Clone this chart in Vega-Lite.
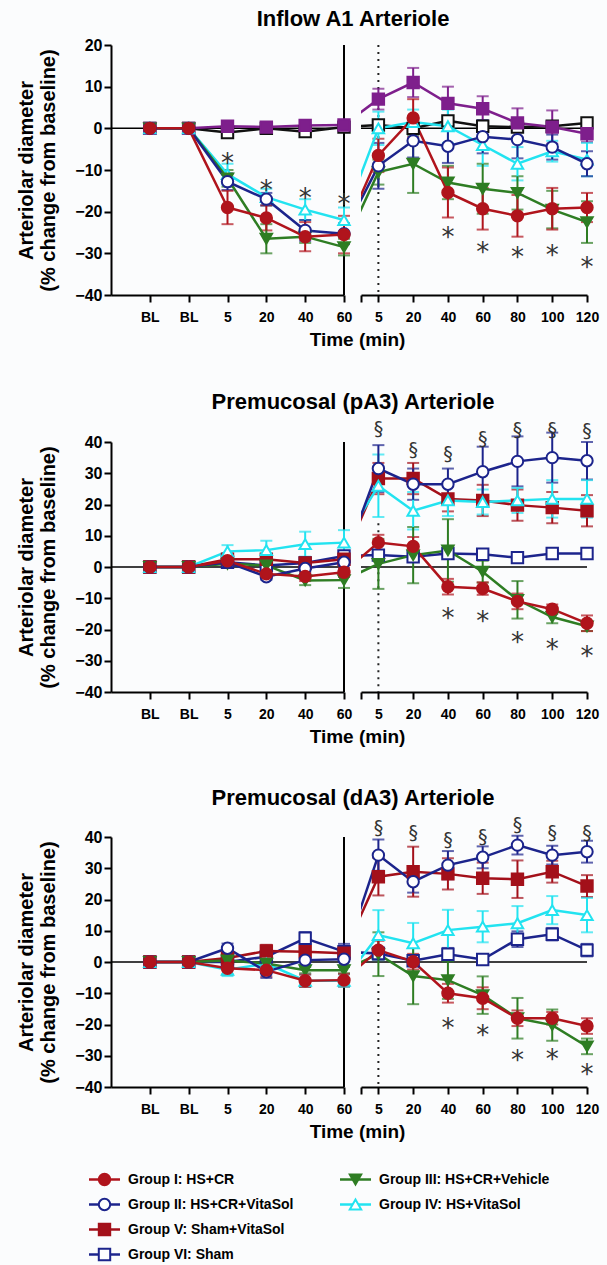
{
"$schema": "https://vega.github.io/schema/vega-lite/v6.json",
"background": "#fbfcfd",
"padding": {"left": 16, "top": 8, "right": 2, "bottom": 2},
"spacing": 26,
"datasets": {
"d": [
{"p":"A1","g":"VI","i":1,"m":0,"e":0},{"p":"A1","g":"VI","i":2,"m":0,"e":0},{"p":"A1","g":"VI","i":3,"m":-1,"e":0.5},{"p":"A1","g":"VI","i":4,"m":0,"e":0.5},{"p":"A1","g":"VI","i":5,"m":-0.8,"e":0.8},{"p":"A1","g":"VI","i":6,"m":0.3,"e":0.5},{"p":"A1","g":"VI","i":7,"m":0.8,"e":1},{"p":"A1","g":"VI","i":8,"m":0,"e":1},{"p":"A1","g":"VI","i":9,"m":1.8,"e":1},{"p":"A1","g":"VI","i":10,"m":0.5,"e":1},{"p":"A1","g":"VI","i":11,"m":0.3,"e":1},{"p":"A1","g":"VI","i":12,"m":0.5,"e":1},{"p":"A1","g":"VI","i":13,"m":1.3,"e":1},
{"p":"A1","g":"V","i":1,"m":0,"e":0},{"p":"A1","g":"V","i":2,"m":0,"e":0},{"p":"A1","g":"V","i":3,"m":0.5,"e":0.5},{"p":"A1","g":"V","i":4,"m":0.3,"e":0.5},{"p":"A1","g":"V","i":5,"m":0.7,"e":0.5},{"p":"A1","g":"V","i":6,"m":0.8,"e":0.5},{"p":"A1","g":"V","i":7,"m":7,"e":2.5},{"p":"A1","g":"V","i":8,"m":11,"e":3.5},{"p":"A1","g":"V","i":9,"m":6,"e":4},{"p":"A1","g":"V","i":10,"m":4.7,"e":3},{"p":"A1","g":"V","i":11,"m":1.3,"e":3.5},{"p":"A1","g":"V","i":12,"m":0.3,"e":4},{"p":"A1","g":"V","i":13,"m":-1.3,"e":2},
{"p":"A1","g":"IV","i":1,"m":0,"e":0},{"p":"A1","g":"IV","i":2,"m":0,"e":0},{"p":"A1","g":"IV","i":3,"m":-11,"e":2.5},{"p":"A1","g":"IV","i":4,"m":-16.5,"e":2},{"p":"A1","g":"IV","i":5,"m":-19.5,"e":2.5},{"p":"A1","g":"IV","i":6,"m":-22,"e":3},{"p":"A1","g":"IV","i":7,"m":0,"e":4},{"p":"A1","g":"IV","i":8,"m":1.5,"e":3},{"p":"A1","g":"IV","i":9,"m":0.5,"e":4},{"p":"A1","g":"IV","i":10,"m":-4,"e":5},{"p":"A1","g":"IV","i":11,"m":-8.5,"e":4},{"p":"A1","g":"IV","i":12,"m":-5.5,"e":2.5},{"p":"A1","g":"IV","i":13,"m":-7.5,"e":4},
{"p":"A1","g":"III","i":1,"m":0,"e":0},{"p":"A1","g":"III","i":2,"m":0,"e":0},{"p":"A1","g":"III","i":3,"m":-12,"e":2},{"p":"A1","g":"III","i":4,"m":-26.5,"e":3.5},{"p":"A1","g":"III","i":5,"m":-26,"e":1.5},{"p":"A1","g":"III","i":6,"m":-28.5,"e":2},{"p":"A1","g":"III","i":7,"m":-10.5,"e":3},{"p":"A1","g":"III","i":8,"m":-8.5,"e":7},{"p":"A1","g":"III","i":9,"m":-13,"e":4},{"p":"A1","g":"III","i":10,"m":-14.5,"e":6},{"p":"A1","g":"III","i":11,"m":-15.5,"e":4},{"p":"A1","g":"III","i":12,"m":-19.5,"e":4.5},{"p":"A1","g":"III","i":13,"m":-22.5,"e":5},
{"p":"A1","g":"II","i":1,"m":0,"e":0},{"p":"A1","g":"II","i":2,"m":0,"e":0},{"p":"A1","g":"II","i":3,"m":-12.8,"e":2},{"p":"A1","g":"II","i":4,"m":-17,"e":1.5},{"p":"A1","g":"II","i":5,"m":-24.5,"e":2.5},{"p":"A1","g":"II","i":6,"m":-25.3,"e":2.5},{"p":"A1","g":"II","i":7,"m":-9,"e":5.5},{"p":"A1","g":"II","i":8,"m":-3,"e":4},{"p":"A1","g":"II","i":9,"m":-4.3,"e":4},{"p":"A1","g":"II","i":10,"m":-2,"e":4},{"p":"A1","g":"II","i":11,"m":-2.7,"e":4.5},{"p":"A1","g":"II","i":12,"m":-4.5,"e":3},{"p":"A1","g":"II","i":13,"m":-8.5,"e":3},
{"p":"A1","g":"I","i":1,"m":0,"e":0},{"p":"A1","g":"I","i":2,"m":0,"e":0},{"p":"A1","g":"I","i":3,"m":-19,"e":4},{"p":"A1","g":"I","i":4,"m":-21.5,"e":3},{"p":"A1","g":"I","i":5,"m":-26,"e":3.5},{"p":"A1","g":"I","i":6,"m":-25.5,"e":4.5},{"p":"A1","g":"I","i":7,"m":-6.5,"e":4},{"p":"A1","g":"I","i":8,"m":2.5,"e":4.5},{"p":"A1","g":"I","i":9,"m":-15.4,"e":6},{"p":"A1","g":"I","i":10,"m":-19.3,"e":5},{"p":"A1","g":"I","i":11,"m":-21,"e":5},{"p":"A1","g":"I","i":12,"m":-19.3,"e":5},{"p":"A1","g":"I","i":13,"m":-19,"e":3.5},
{"p":"pA3","g":"VI","i":1,"m":0,"e":0},{"p":"pA3","g":"VI","i":2,"m":0,"e":0},{"p":"pA3","g":"VI","i":3,"m":1.5,"e":1},{"p":"pA3","g":"VI","i":4,"m":0.5,"e":1},{"p":"pA3","g":"VI","i":5,"m":1.3,"e":1},{"p":"pA3","g":"VI","i":6,"m":3.5,"e":1.5},{"p":"pA3","g":"VI","i":7,"m":3.8,"e":1},{"p":"pA3","g":"VI","i":8,"m":3.3,"e":1},{"p":"pA3","g":"VI","i":9,"m":4.3,"e":1},{"p":"pA3","g":"VI","i":10,"m":4.1,"e":1},{"p":"pA3","g":"VI","i":11,"m":3,"e":0.8},{"p":"pA3","g":"VI","i":12,"m":4.3,"e":0.8},{"p":"pA3","g":"VI","i":13,"m":4.3,"e":0.8},
{"p":"pA3","g":"V","i":1,"m":0,"e":0},{"p":"pA3","g":"V","i":2,"m":0,"e":0},{"p":"pA3","g":"V","i":3,"m":2.5,"e":1},{"p":"pA3","g":"V","i":4,"m":2.5,"e":1},{"p":"pA3","g":"V","i":5,"m":1.3,"e":1},{"p":"pA3","g":"V","i":6,"m":2.5,"e":1},{"p":"pA3","g":"V","i":7,"m":28.3,"e":5},{"p":"pA3","g":"V","i":8,"m":28.3,"e":5},{"p":"pA3","g":"V","i":9,"m":21.8,"e":4},{"p":"pA3","g":"V","i":10,"m":21.3,"e":5},{"p":"pA3","g":"V","i":11,"m":19.8,"e":5},{"p":"pA3","g":"V","i":12,"m":19,"e":5},{"p":"pA3","g":"V","i":13,"m":18,"e":5},
{"p":"pA3","g":"IV","i":1,"m":0,"e":0},{"p":"pA3","g":"IV","i":2,"m":0,"e":0},{"p":"pA3","g":"IV","i":3,"m":5,"e":2},{"p":"pA3","g":"IV","i":4,"m":5.4,"e":3},{"p":"pA3","g":"IV","i":5,"m":7.3,"e":4},{"p":"pA3","g":"IV","i":6,"m":7.8,"e":4},{"p":"pA3","g":"IV","i":7,"m":26,"e":10},{"p":"pA3","g":"IV","i":8,"m":18,"e":6},{"p":"pA3","g":"IV","i":9,"m":21.3,"e":5},{"p":"pA3","g":"IV","i":10,"m":20.8,"e":4},{"p":"pA3","g":"IV","i":11,"m":21.3,"e":4},{"p":"pA3","g":"IV","i":12,"m":21.8,"e":6},{"p":"pA3","g":"IV","i":13,"m":21.8,"e":6},
{"p":"pA3","g":"III","i":1,"m":0,"e":0},{"p":"pA3","g":"III","i":2,"m":0,"e":0},{"p":"pA3","g":"III","i":3,"m":1,"e":1},{"p":"pA3","g":"III","i":4,"m":0.5,"e":1},{"p":"pA3","g":"III","i":5,"m":-4.3,"e":1.5},{"p":"pA3","g":"III","i":6,"m":-4.2,"e":2.5},{"p":"pA3","g":"III","i":7,"m":1,"e":8},{"p":"pA3","g":"III","i":8,"m":3.8,"e":9},{"p":"pA3","g":"III","i":9,"m":5.3,"e":10},{"p":"pA3","g":"III","i":10,"m":-1.5,"e":3.5},{"p":"pA3","g":"III","i":11,"m":-10.5,"e":6},{"p":"pA3","g":"III","i":12,"m":-16,"e":2},{"p":"pA3","g":"III","i":13,"m":-19,"e":1.5},
{"p":"pA3","g":"II","i":1,"m":0,"e":0},{"p":"pA3","g":"II","i":2,"m":0,"e":0},{"p":"pA3","g":"II","i":3,"m":1.5,"e":1},{"p":"pA3","g":"II","i":4,"m":-3.1,"e":1},{"p":"pA3","g":"II","i":5,"m":-0.5,"e":1.5},{"p":"pA3","g":"II","i":6,"m":1.5,"e":2},{"p":"pA3","g":"II","i":7,"m":31.5,"e":7.5},{"p":"pA3","g":"II","i":8,"m":26.5,"e":5},{"p":"pA3","g":"II","i":9,"m":26.5,"e":5},{"p":"pA3","g":"II","i":10,"m":30.5,"e":8},{"p":"pA3","g":"II","i":11,"m":33.8,"e":8},{"p":"pA3","g":"II","i":12,"m":35,"e":8},{"p":"pA3","g":"II","i":13,"m":34,"e":6},
{"p":"pA3","g":"I","i":1,"m":0,"e":0},{"p":"pA3","g":"I","i":2,"m":0,"e":0},{"p":"pA3","g":"I","i":3,"m":2,"e":1},{"p":"pA3","g":"I","i":4,"m":-2.2,"e":1.5},{"p":"pA3","g":"I","i":5,"m":-3,"e":1.5},{"p":"pA3","g":"I","i":6,"m":-1.7,"e":1.5},{"p":"pA3","g":"I","i":7,"m":7.8,"e":2.5},{"p":"pA3","g":"I","i":8,"m":6.6,"e":3},{"p":"pA3","g":"I","i":9,"m":-6.3,"e":2.5},{"p":"pA3","g":"I","i":10,"m":-6.9,"e":2},{"p":"pA3","g":"I","i":11,"m":-11,"e":2.5},{"p":"pA3","g":"I","i":12,"m":-13.5,"e":1.5},{"p":"pA3","g":"I","i":13,"m":-18,"e":2.5},
{"p":"dA3","g":"VI","i":1,"m":0,"e":0},{"p":"dA3","g":"VI","i":2,"m":0,"e":0},{"p":"dA3","g":"VI","i":3,"m":0,"e":1},{"p":"dA3","g":"VI","i":4,"m":1.7,"e":2},{"p":"dA3","g":"VI","i":5,"m":7.6,"e":2},{"p":"dA3","g":"VI","i":6,"m":3.3,"e":2.5},{"p":"dA3","g":"VI","i":7,"m":2.7,"e":2},{"p":"dA3","g":"VI","i":8,"m":0.4,"e":1.5},{"p":"dA3","g":"VI","i":9,"m":2.5,"e":2},{"p":"dA3","g":"VI","i":10,"m":0.8,"e":1},{"p":"dA3","g":"VI","i":11,"m":7.3,"e":2.5},{"p":"dA3","g":"VI","i":12,"m":8.9,"e":2},{"p":"dA3","g":"VI","i":13,"m":3.8,"e":2},
{"p":"dA3","g":"V","i":1,"m":0,"e":0},{"p":"dA3","g":"V","i":2,"m":0,"e":0},{"p":"dA3","g":"V","i":3,"m":1.3,"e":1.5},{"p":"dA3","g":"V","i":4,"m":3.5,"e":2},{"p":"dA3","g":"V","i":5,"m":3.3,"e":2},{"p":"dA3","g":"V","i":6,"m":2.8,"e":2},{"p":"dA3","g":"V","i":7,"m":27.3,"e":6},{"p":"dA3","g":"V","i":8,"m":28.9,"e":8},{"p":"dA3","g":"V","i":9,"m":28.2,"e":5},{"p":"dA3","g":"V","i":10,"m":26.8,"e":5},{"p":"dA3","g":"V","i":11,"m":26.5,"e":6},{"p":"dA3","g":"V","i":12,"m":28.9,"e":3.5},{"p":"dA3","g":"V","i":13,"m":24.3,"e":3.5},
{"p":"dA3","g":"IV","i":1,"m":0,"e":0},{"p":"dA3","g":"IV","i":2,"m":0,"e":0},{"p":"dA3","g":"IV","i":3,"m":-2.5,"e":2},{"p":"dA3","g":"IV","i":4,"m":-0.5,"e":2},{"p":"dA3","g":"IV","i":5,"m":-6,"e":2},{"p":"dA3","g":"IV","i":6,"m":-6,"e":2},{"p":"dA3","g":"IV","i":7,"m":8.6,"e":8},{"p":"dA3","g":"IV","i":8,"m":6,"e":6.5},{"p":"dA3","g":"IV","i":9,"m":10.2,"e":6.5},{"p":"dA3","g":"IV","i":10,"m":11.3,"e":5},{"p":"dA3","g":"IV","i":11,"m":12.4,"e":5.5},{"p":"dA3","g":"IV","i":12,"m":16.6,"e":4.5},{"p":"dA3","g":"IV","i":13,"m":15,"e":5.5},
{"p":"dA3","g":"III","i":1,"m":0,"e":0},{"p":"dA3","g":"III","i":2,"m":0,"e":0},{"p":"dA3","g":"III","i":3,"m":0.5,"e":1},{"p":"dA3","g":"III","i":4,"m":-0.5,"e":1},{"p":"dA3","g":"III","i":5,"m":-2.6,"e":1},{"p":"dA3","g":"III","i":6,"m":-2.6,"e":1},{"p":"dA3","g":"III","i":7,"m":2.5,"e":7},{"p":"dA3","g":"III","i":8,"m":-4.5,"e":9},{"p":"dA3","g":"III","i":9,"m":-5.8,"e":6},{"p":"dA3","g":"III","i":10,"m":-10.6,"e":6},{"p":"dA3","g":"III","i":11,"m":-18,"e":6.5},{"p":"dA3","g":"III","i":12,"m":-20.2,"e":5},{"p":"dA3","g":"III","i":13,"m":-27,"e":2.5},
{"p":"dA3","g":"II","i":1,"m":0,"e":0},{"p":"dA3","g":"II","i":2,"m":0,"e":0},{"p":"dA3","g":"II","i":3,"m":4.4,"e":1.5},{"p":"dA3","g":"II","i":4,"m":-3.1,"e":2},{"p":"dA3","g":"II","i":5,"m":0.6,"e":1.5},{"p":"dA3","g":"II","i":6,"m":0.9,"e":2},{"p":"dA3","g":"II","i":7,"m":34.2,"e":5},{"p":"dA3","g":"II","i":8,"m":25.7,"e":3.5},{"p":"dA3","g":"II","i":9,"m":31,"e":4.5},{"p":"dA3","g":"II","i":10,"m":33.5,"e":3.5},{"p":"dA3","g":"II","i":11,"m":37.4,"e":3},{"p":"dA3","g":"II","i":12,"m":34.2,"e":3},{"p":"dA3","g":"II","i":13,"m":35.3,"e":3.5},
{"p":"dA3","g":"I","i":1,"m":0,"e":0},{"p":"dA3","g":"I","i":2,"m":0,"e":0},{"p":"dA3","g":"I","i":3,"m":-2,"e":2},{"p":"dA3","g":"I","i":4,"m":-2.6,"e":2},{"p":"dA3","g":"I","i":5,"m":-6,"e":2},{"p":"dA3","g":"I","i":6,"m":-5.8,"e":2},{"p":"dA3","g":"I","i":7,"m":3.8,"e":3},{"p":"dA3","g":"I","i":8,"m":0.1,"e":2.5},{"p":"dA3","g":"I","i":9,"m":-10,"e":3},{"p":"dA3","g":"I","i":10,"m":-11.6,"e":3.5},{"p":"dA3","g":"I","i":11,"m":-18,"e":2.5},{"p":"dA3","g":"I","i":12,"m":-18,"e":2},{"p":"dA3","g":"I","i":13,"m":-20.5,"e":2.5}
],
"ann": [
{"p":"A1","i":3,"v":-7,"s":"*"},{"p":"A1","i":4,"v":-13.7,"s":"*"},{"p":"A1","i":5,"v":-15.6,"s":"*"},{"p":"A1","i":6,"v":-17,"s":"*"},{"p":"A1","i":9,"v":-24.9,"s":"*"},{"p":"A1","i":10,"v":-28.5,"s":"*"},{"p":"A1","i":11,"v":-29.7,"s":"*"},{"p":"A1","i":12,"v":-29.3,"s":"*"},{"p":"A1","i":13,"v":-32,"s":"*"},
{"p":"pA3","i":7,"v":44.3,"s":"§"},{"p":"pA3","i":8,"v":37.4,"s":"§"},{"p":"pA3","i":9,"v":36.3,"s":"§"},{"p":"pA3","i":10,"v":41.1,"s":"§"},{"p":"pA3","i":11,"v":43.8,"s":"§"},{"p":"pA3","i":12,"v":44,"s":"§"},{"p":"pA3","i":13,"v":43.5,"s":"§"},
{"p":"pA3","i":9,"v":-14.8,"s":"*"},{"p":"pA3","i":10,"v":-15.7,"s":"*"},{"p":"pA3","i":11,"v":-22.3,"s":"*"},{"p":"pA3","i":12,"v":-24.6,"s":"*"},{"p":"pA3","i":13,"v":-27,"s":"*"},
{"p":"dA3","i":7,"v":42.8,"s":"§"},{"p":"dA3","i":8,"v":41.2,"s":"§"},{"p":"dA3","i":9,"v":39,"s":"§"},{"p":"dA3","i":10,"v":40.1,"s":"§"},{"p":"dA3","i":11,"v":43.8,"s":"§"},{"p":"dA3","i":12,"v":41.2,"s":"§"},{"p":"dA3","i":13,"v":41.2,"s":"§"},
{"p":"dA3","i":9,"v":-19.6,"s":"*"},{"p":"dA3","i":10,"v":-21.8,"s":"*"},{"p":"dA3","i":11,"v":-29.8,"s":"*"},{"p":"dA3","i":12,"v":-29.4,"s":"*"},{"p":"dA3","i":13,"v":-34.3,"s":"*"}
],
"leg": [
{"g":"I","t":"Group I: HS+CR"},{"g":"II","t":"Group II: HS+CR+VitaSol"},{"g":"III","t":"Group III: HS+CR+Vehicle"},{"g":"IV","t":"Group IV: HS+VitaSol"},{"g":"V","t":"Group V: Sham+VitaSol"},{"g":"VI","t":"Group VI: Sham"}
]
},
"resolve": {"scale": {"color": "independent", "fill": "independent", "stroke": "independent", "shape": "independent", "x": "independent", "y": "independent"}},
"vconcat": [
{
"spacing": 41,
"resolve": {"scale": {"color": "independent", "fill": "independent", "stroke": "independent", "shape": "independent", "x": "independent", "y": "independent"}},
"vconcat": [
{
"title": {"text": "Inflow A1 Arteriole", "anchor": "middle", "frame": "group", "dx": 242, "offset": 6},
"spacing": 17,
"bounds": "flush",
"resolve": {"scale": {"x": "independent"}},
"hconcat": [
{
"width": 233, "height": 250,
"layer": [
{"data": {"values": [{}]}, "mark": {"type": "rule", "color": "#000", "strokeWidth": 1.5}, "encoding": {"y": {"datum": 0, "type": "quantitative"}}},
{"data": {"values": [{}]}, "mark": {"type": "rule", "color": "#000", "strokeWidth": 2}, "encoding": {"x": {"datum": 6, "type": "quantitative"}}},
{"data": {"name": "d"}, "transform": [{"filter": "datum.p=='A1' && datum.i<=6 && datum.e>0"}], "mark": {"type": "errorbar", "ticks": {"size": 12}, "thickness": 2}, "encoding": {"x": {"field": "i", "type": "quantitative"}, "y": {"field": "m", "type": "quantitative", "scale": {"domain": [-40, 20], "nice": false, "zero": false}, "axis": {"values": [-40,-30,-20,-10,0,10,20], "tickCount": 20, "labelOverlap": false, "title": ["Arteriolar diameter", "(% change from baseline)"], "titlePadding": 16, "labelPadding": 2}}, "yError": {"field": "e"}, "color": {"field": "g", "type": "nominal", "legend": null, "scale": {"domain": ["I","II","III","IV","V","VI"], "range": ["#b0141c","#1c248c","#2e7d23","#22e3f0","#7e1f8c","#111111"]}}}},
{"data": {"name": "d"}, "transform": [{"filter": "datum.p=='A1' && datum.i<=6"}], "mark": {"type": "line", "strokeWidth": 2.5}, "encoding": {
"x": {"field": "i", "type": "quantitative", "scale": {"domain": [0, 6], "nice": false, "zero": false}, "axis": {"values": [1,2,3,4,5,6], "tickCount": 20, "labelOverlap": false, "labelFlush": false, "labelExpr": "datum.value==6.5?'':['','BL','BL','5','20','40','60','5','20','40','60','80','100','120'][datum.value]", "title": null, "labelPadding": 8}},
"y": {"field": "m", "type": "quantitative", "scale": {"domain": [-40, 20], "nice": false, "zero": false}, "axis": {"values": [-40,-30,-20,-10,0,10,20], "tickCount": 20, "labelOverlap": false, "title": ["Arteriolar diameter", "(% change from baseline)"], "titlePadding": 16, "labelPadding": 2}},
"color": {"field": "g", "type": "nominal", "legend": null, "scale": {"domain": ["I","II","III","IV","V","VI"], "range": ["#b0141c","#1c248c","#2e7d23","#22e3f0","#7e1f8c","#111111"]}}}},
{"data": {"name": "d"}, "transform": [{"filter": "datum.p=='A1' && datum.i<=6"}], "mark": {"type": "point", "opacity": 1, "size": 130, "strokeWidth": 2}, "encoding": {"x": {"field": "i", "type": "quantitative"}, "y": {"field": "m", "type": "quantitative"},
"shape": {"field": "g", "type": "nominal", "legend": null, "scale": {"domain": ["I","II","III","IV","V","VI"], "range": ["circle","circle","triangle-down","triangle-up","square","square"]}},
"stroke": {"field": "g", "type": "nominal", "legend": null, "scale": {"domain": ["I","II","III","IV","V","VI"], "range": ["#b0141c","#1c248c","#2e7d23","#22e3f0","#7e1f8c","#111111"]}},
"fill": {"field": "g", "type": "nominal", "legend": null, "scale": {"domain": ["I","II","III","IV","V","VI"], "range": ["#b0141c","#ffffff","#2e7d23","#ffffff","#7e1f8c","#ffffff"]}}}},
{"data": {"name": "ann"}, "transform": [{"filter": "datum.p=='A1' && datum.i<=6 && datum.s=='*'"}], "mark": {"type": "text", "font": "DejaVu Sans", "fontSize": 26, "color": "#333", "baseline": "alphabetic", "dy": 14}, "encoding": {"x": {"field": "i", "type": "quantitative"}, "y": {"field": "v", "type": "quantitative"}, "text": {"field": "s"}}}
]
},
{
"width": 226, "height": 250,
"layer": [
{"data": {"values": [{}]}, "mark": {"type": "rule", "color": "#000", "strokeWidth": 1.5}, "encoding": {"y": {"datum": 0, "type": "quantitative"}}},
{"data": {"values": [{}]}, "mark": {"type": "rule", "color": "#222", "strokeWidth": 2, "strokeDash": [2, 5]}, "encoding": {"x": {"datum": 7, "type": "quantitative"}, "y": {"datum": 20, "type": "quantitative"}, "y2": {"datum": -40}}},
{"data": {"name": "d"}, "transform": [{"filter": "datum.p=='A1' && datum.i>=7 && datum.e>0"}], "mark": {"type": "errorbar", "ticks": {"size": 12}, "thickness": 2}, "encoding": {"x": {"field": "i", "type": "quantitative"}, "y": {"field": "m", "type": "quantitative"}, "yError": {"field": "e"}, "color": {"field": "g", "type": "nominal", "legend": null, "scale": {"domain": ["I","II","III","IV","V","VI"], "range": ["#b0141c","#1c248c","#2e7d23","#22e3f0","#7e1f8c","#111111"]}}}},
{"data": {"name": "d"}, "transform": [{"filter": "datum.p=='A1' && datum.i>=6"}], "mark": {"type": "line", "strokeWidth": 2.5, "clip": true}, "encoding": {
"x": {"field": "i", "type": "quantitative", "scale": {"domain": [6.5, 13], "nice": false, "zero": false}, "axis": {"values": [6.5,7,8,9,10,11,12,13], "tickCount": 20, "labelOverlap": false, "labelFlush": false, "labelExpr": "datum.value==6.5?'':['','BL','BL','5','20','40','60','5','20','40','60','80','100','120'][datum.value]", "title": "Time (min)", "titleX": -4, "labelPadding": 8, "titlePadding": 6}},
"y": {"field": "m", "type": "quantitative", "scale": {"domain": [-40, 20], "nice": false, "zero": false}, "axis": null},
"color": {"field": "g", "type": "nominal", "legend": null, "scale": {"domain": ["I","II","III","IV","V","VI"], "range": ["#b0141c","#1c248c","#2e7d23","#22e3f0","#7e1f8c","#111111"]}}}},
{"data": {"name": "d"}, "transform": [{"filter": "datum.p=='A1' && datum.i>=7"}], "mark": {"type": "point", "opacity": 1, "size": 130, "strokeWidth": 2}, "encoding": {"x": {"field": "i", "type": "quantitative"}, "y": {"field": "m", "type": "quantitative"},
"shape": {"field": "g", "type": "nominal", "legend": null, "scale": {"domain": ["I","II","III","IV","V","VI"], "range": ["circle","circle","triangle-down","triangle-up","square","square"]}},
"stroke": {"field": "g", "type": "nominal", "legend": null, "scale": {"domain": ["I","II","III","IV","V","VI"], "range": ["#b0141c","#1c248c","#2e7d23","#22e3f0","#7e1f8c","#111111"]}},
"fill": {"field": "g", "type": "nominal", "legend": null, "scale": {"domain": ["I","II","III","IV","V","VI"], "range": ["#b0141c","#ffffff","#2e7d23","#ffffff","#7e1f8c","#ffffff"]}}}},
{"data": {"name": "ann"}, "transform": [{"filter": "datum.p=='A1' && datum.i>=7 && datum.s=='*'"}], "mark": {"type": "text", "font": "DejaVu Sans", "fontSize": 26, "color": "#333", "baseline": "alphabetic", "dy": 14}, "encoding": {"x": {"field": "i", "type": "quantitative"}, "y": {"field": "v", "type": "quantitative"}, "text": {"field": "s"}}}
]
}
]
},
{
"title": {"text": "Premucosal (pA3) Arteriole", "anchor": "middle", "frame": "group", "dx": 242, "offset": 6},
"spacing": 17,
"bounds": "flush",
"resolve": {"scale": {"x": "independent"}},
"hconcat": [
{
"width": 233, "height": 250,
"layer": [
{"data": {"values": [{}]}, "mark": {"type": "rule", "color": "#000", "strokeWidth": 1.5}, "encoding": {"y": {"datum": 0, "type": "quantitative"}}},
{"data": {"values": [{}]}, "mark": {"type": "rule", "color": "#000", "strokeWidth": 2}, "encoding": {"x": {"datum": 6, "type": "quantitative"}}},
{"data": {"name": "d"}, "transform": [{"filter": "datum.p=='pA3' && datum.i<=6 && datum.e>0"}], "mark": {"type": "errorbar", "ticks": {"size": 12}, "thickness": 2}, "encoding": {"x": {"field": "i", "type": "quantitative"}, "y": {"field": "m", "type": "quantitative", "scale": {"domain": [-40, 40], "nice": false, "zero": false}, "axis": {"values": [-40,-30,-20,-10,0,10,20,30,40], "tickCount": 20, "labelOverlap": false, "title": ["Arteriolar diameter", "(% change from baseline)"], "titlePadding": 16, "labelPadding": 2}}, "yError": {"field": "e"}, "color": {"field": "g", "type": "nominal", "legend": null, "scale": {"domain": ["I","II","III","IV","V","VI"], "range": ["#b0141c","#1c248c","#2e7d23","#22e3f0","#a3101a","#1c248c"]}}}},
{"data": {"name": "d"}, "transform": [{"filter": "datum.p=='pA3' && datum.i<=6"}], "mark": {"type": "line", "strokeWidth": 2.5}, "encoding": {
"x": {"field": "i", "type": "quantitative", "scale": {"domain": [0, 6], "nice": false, "zero": false}, "axis": {"values": [1,2,3,4,5,6], "tickCount": 20, "labelOverlap": false, "labelFlush": false, "labelExpr": "datum.value==6.5?'':['','BL','BL','5','20','40','60','5','20','40','60','80','100','120'][datum.value]", "title": null, "labelPadding": 8}},
"y": {"field": "m", "type": "quantitative", "scale": {"domain": [-40, 40], "nice": false, "zero": false}, "axis": {"values": [-40,-30,-20,-10,0,10,20,30,40], "tickCount": 20, "labelOverlap": false, "title": ["Arteriolar diameter", "(% change from baseline)"], "titlePadding": 16, "labelPadding": 2}},
"color": {"field": "g", "type": "nominal", "legend": null, "scale": {"domain": ["I","II","III","IV","V","VI"], "range": ["#b0141c","#1c248c","#2e7d23","#22e3f0","#a3101a","#1c248c"]}}}},
{"data": {"name": "d"}, "transform": [{"filter": "datum.p=='pA3' && datum.i<=6"}], "mark": {"type": "point", "opacity": 1, "size": 130, "strokeWidth": 2}, "encoding": {"x": {"field": "i", "type": "quantitative"}, "y": {"field": "m", "type": "quantitative"},
"shape": {"field": "g", "type": "nominal", "legend": null, "scale": {"domain": ["I","II","III","IV","V","VI"], "range": ["circle","circle","triangle-down","triangle-up","square","square"]}},
"stroke": {"field": "g", "type": "nominal", "legend": null, "scale": {"domain": ["I","II","III","IV","V","VI"], "range": ["#b0141c","#1c248c","#2e7d23","#22e3f0","#a3101a","#1c248c"]}},
"fill": {"field": "g", "type": "nominal", "legend": null, "scale": {"domain": ["I","II","III","IV","V","VI"], "range": ["#b0141c","#ffffff","#2e7d23","#ffffff","#a3101a","#ffffff"]}}}}
]
},
{
"width": 226, "height": 250,
"layer": [
{"data": {"values": [{}]}, "mark": {"type": "rule", "color": "#000", "strokeWidth": 1.5}, "encoding": {"y": {"datum": 0, "type": "quantitative"}}},
{"data": {"values": [{}]}, "mark": {"type": "rule", "color": "#222", "strokeWidth": 2, "strokeDash": [2, 5]}, "encoding": {"x": {"datum": 7, "type": "quantitative"}, "y": {"datum": 14, "type": "quantitative"}, "y2": {"datum": -40}}},
{"data": {"name": "d"}, "transform": [{"filter": "datum.p=='pA3' && datum.i>=7 && datum.e>0"}], "mark": {"type": "errorbar", "ticks": {"size": 12}, "thickness": 2}, "encoding": {"x": {"field": "i", "type": "quantitative"}, "y": {"field": "m", "type": "quantitative"}, "yError": {"field": "e"}, "color": {"field": "g", "type": "nominal", "legend": null, "scale": {"domain": ["I","II","III","IV","V","VI"], "range": ["#b0141c","#1c248c","#2e7d23","#22e3f0","#a3101a","#1c248c"]}}}},
{"data": {"name": "d"}, "transform": [{"filter": "datum.p=='pA3' && datum.i>=6"}], "mark": {"type": "line", "strokeWidth": 2.5, "clip": true}, "encoding": {
"x": {"field": "i", "type": "quantitative", "scale": {"domain": [6.5, 13], "nice": false, "zero": false}, "axis": {"values": [6.5,7,8,9,10,11,12,13], "tickCount": 20, "labelOverlap": false, "labelFlush": false, "labelExpr": "datum.value==6.5?'':['','BL','BL','5','20','40','60','5','20','40','60','80','100','120'][datum.value]", "title": "Time (min)", "titleX": -4, "labelPadding": 8, "titlePadding": 6}},
"y": {"field": "m", "type": "quantitative", "scale": {"domain": [-40, 40], "nice": false, "zero": false}, "axis": null},
"color": {"field": "g", "type": "nominal", "legend": null, "scale": {"domain": ["I","II","III","IV","V","VI"], "range": ["#b0141c","#1c248c","#2e7d23","#22e3f0","#a3101a","#1c248c"]}}}},
{"data": {"name": "d"}, "transform": [{"filter": "datum.p=='pA3' && datum.i>=7"}], "mark": {"type": "point", "opacity": 1, "size": 130, "strokeWidth": 2}, "encoding": {"x": {"field": "i", "type": "quantitative"}, "y": {"field": "m", "type": "quantitative"},
"shape": {"field": "g", "type": "nominal", "legend": null, "scale": {"domain": ["I","II","III","IV","V","VI"], "range": ["circle","circle","triangle-down","triangle-up","square","square"]}},
"stroke": {"field": "g", "type": "nominal", "legend": null, "scale": {"domain": ["I","II","III","IV","V","VI"], "range": ["#b0141c","#1c248c","#2e7d23","#22e3f0","#a3101a","#1c248c"]}},
"fill": {"field": "g", "type": "nominal", "legend": null, "scale": {"domain": ["I","II","III","IV","V","VI"], "range": ["#b0141c","#ffffff","#2e7d23","#ffffff","#a3101a","#ffffff"]}}}},
{"data": {"name": "ann"}, "transform": [{"filter": "datum.p=='pA3' && datum.s=='*'"}], "mark": {"type": "text", "font": "DejaVu Sans", "fontSize": 26, "color": "#333", "baseline": "alphabetic", "dy": 14}, "encoding": {"x": {"field": "i", "type": "quantitative"}, "y": {"field": "v", "type": "quantitative"}, "text": {"field": "s"}}},
{"data": {"name": "ann"}, "transform": [{"filter": "datum.p=='pA3' && datum.s=='§'"}], "mark": {"type": "text", "font": "DejaVu Sans", "fontSize": 19, "color": "#333", "baseline": "alphabetic", "dy": 6}, "encoding": {"x": {"field": "i", "type": "quantitative"}, "y": {"field": "v", "type": "quantitative"}, "text": {"field": "s"}}}
]
}
]
},
{
"title": {"text": "Premucosal (dA3) Arteriole", "anchor": "middle", "frame": "group", "dx": 242, "offset": 6},
"spacing": 17,
"bounds": "flush",
"resolve": {"scale": {"x": "independent"}},
"hconcat": [
{
"width": 233, "height": 250,
"layer": [
{"data": {"values": [{}]}, "mark": {"type": "rule", "color": "#000", "strokeWidth": 1.5}, "encoding": {"y": {"datum": 0, "type": "quantitative"}}},
{"data": {"values": [{}]}, "mark": {"type": "rule", "color": "#000", "strokeWidth": 2}, "encoding": {"x": {"datum": 6, "type": "quantitative"}}},
{"data": {"name": "d"}, "transform": [{"filter": "datum.p=='dA3' && datum.i<=6 && datum.e>0"}], "mark": {"type": "errorbar", "ticks": {"size": 12}, "thickness": 2}, "encoding": {"x": {"field": "i", "type": "quantitative"}, "y": {"field": "m", "type": "quantitative", "scale": {"domain": [-40, 40], "nice": false, "zero": false}, "axis": {"values": [-40,-30,-20,-10,0,10,20,30,40], "tickCount": 20, "labelOverlap": false, "title": ["Arteriolar diameter", "(% change from baseline)"], "titlePadding": 16, "labelPadding": 2}}, "yError": {"field": "e"}, "color": {"field": "g", "type": "nominal", "legend": null, "scale": {"domain": ["I","II","III","IV","V","VI"], "range": ["#b0141c","#1c248c","#2e7d23","#22e3f0","#a3101a","#1c248c"]}}}},
{"data": {"name": "d"}, "transform": [{"filter": "datum.p=='dA3' && datum.i<=6"}], "mark": {"type": "line", "strokeWidth": 2.5}, "encoding": {
"x": {"field": "i", "type": "quantitative", "scale": {"domain": [0, 6], "nice": false, "zero": false}, "axis": {"values": [1,2,3,4,5,6], "tickCount": 20, "labelOverlap": false, "labelFlush": false, "labelExpr": "datum.value==6.5?'':['','BL','BL','5','20','40','60','5','20','40','60','80','100','120'][datum.value]", "title": null, "labelPadding": 8}},
"y": {"field": "m", "type": "quantitative", "scale": {"domain": [-40, 40], "nice": false, "zero": false}, "axis": {"values": [-40,-30,-20,-10,0,10,20,30,40], "tickCount": 20, "labelOverlap": false, "title": ["Arteriolar diameter", "(% change from baseline)"], "titlePadding": 16, "labelPadding": 2}},
"color": {"field": "g", "type": "nominal", "legend": null, "scale": {"domain": ["I","II","III","IV","V","VI"], "range": ["#b0141c","#1c248c","#2e7d23","#22e3f0","#a3101a","#1c248c"]}}}},
{"data": {"name": "d"}, "transform": [{"filter": "datum.p=='dA3' && datum.i<=6"}], "mark": {"type": "point", "opacity": 1, "size": 130, "strokeWidth": 2}, "encoding": {"x": {"field": "i", "type": "quantitative"}, "y": {"field": "m", "type": "quantitative"},
"shape": {"field": "g", "type": "nominal", "legend": null, "scale": {"domain": ["I","II","III","IV","V","VI"], "range": ["circle","circle","triangle-down","triangle-up","square","square"]}},
"stroke": {"field": "g", "type": "nominal", "legend": null, "scale": {"domain": ["I","II","III","IV","V","VI"], "range": ["#b0141c","#1c248c","#2e7d23","#22e3f0","#a3101a","#1c248c"]}},
"fill": {"field": "g", "type": "nominal", "legend": null, "scale": {"domain": ["I","II","III","IV","V","VI"], "range": ["#b0141c","#ffffff","#2e7d23","#ffffff","#a3101a","#ffffff"]}}}}
]
},
{
"width": 226, "height": 250,
"layer": [
{"data": {"values": [{}]}, "mark": {"type": "rule", "color": "#000", "strokeWidth": 1.5}, "encoding": {"y": {"datum": 0, "type": "quantitative"}}},
{"data": {"values": [{}]}, "mark": {"type": "rule", "color": "#222", "strokeWidth": 2, "strokeDash": [2, 5]}, "encoding": {"x": {"datum": 7, "type": "quantitative"}, "y": {"datum": -7, "type": "quantitative"}, "y2": {"datum": -40}}},
{"data": {"name": "d"}, "transform": [{"filter": "datum.p=='dA3' && datum.i>=7 && datum.e>0"}], "mark": {"type": "errorbar", "ticks": {"size": 12}, "thickness": 2}, "encoding": {"x": {"field": "i", "type": "quantitative"}, "y": {"field": "m", "type": "quantitative"}, "yError": {"field": "e"}, "color": {"field": "g", "type": "nominal", "legend": null, "scale": {"domain": ["I","II","III","IV","V","VI"], "range": ["#b0141c","#1c248c","#2e7d23","#22e3f0","#a3101a","#1c248c"]}}}},
{"data": {"name": "d"}, "transform": [{"filter": "datum.p=='dA3' && datum.i>=6"}], "mark": {"type": "line", "strokeWidth": 2.5, "clip": true}, "encoding": {
"x": {"field": "i", "type": "quantitative", "scale": {"domain": [6.5, 13], "nice": false, "zero": false}, "axis": {"values": [6.5,7,8,9,10,11,12,13], "tickCount": 20, "labelOverlap": false, "labelFlush": false, "labelExpr": "datum.value==6.5?'':['','BL','BL','5','20','40','60','5','20','40','60','80','100','120'][datum.value]", "title": "Time (min)", "titleX": -4, "labelPadding": 8, "titlePadding": 6}},
"y": {"field": "m", "type": "quantitative", "scale": {"domain": [-40, 40], "nice": false, "zero": false}, "axis": null},
"color": {"field": "g", "type": "nominal", "legend": null, "scale": {"domain": ["I","II","III","IV","V","VI"], "range": ["#b0141c","#1c248c","#2e7d23","#22e3f0","#a3101a","#1c248c"]}}}},
{"data": {"name": "d"}, "transform": [{"filter": "datum.p=='dA3' && datum.i>=7"}], "mark": {"type": "point", "opacity": 1, "size": 130, "strokeWidth": 2}, "encoding": {"x": {"field": "i", "type": "quantitative"}, "y": {"field": "m", "type": "quantitative"},
"shape": {"field": "g", "type": "nominal", "legend": null, "scale": {"domain": ["I","II","III","IV","V","VI"], "range": ["circle","circle","triangle-down","triangle-up","square","square"]}},
"stroke": {"field": "g", "type": "nominal", "legend": null, "scale": {"domain": ["I","II","III","IV","V","VI"], "range": ["#b0141c","#1c248c","#2e7d23","#22e3f0","#a3101a","#1c248c"]}},
"fill": {"field": "g", "type": "nominal", "legend": null, "scale": {"domain": ["I","II","III","IV","V","VI"], "range": ["#b0141c","#ffffff","#2e7d23","#ffffff","#a3101a","#ffffff"]}}}},
{"data": {"name": "ann"}, "transform": [{"filter": "datum.p=='dA3' && datum.s=='*'"}], "mark": {"type": "text", "font": "DejaVu Sans", "fontSize": 26, "color": "#333", "baseline": "alphabetic", "dy": 14}, "encoding": {"x": {"field": "i", "type": "quantitative"}, "y": {"field": "v", "type": "quantitative"}, "text": {"field": "s"}}},
{"data": {"name": "ann"}, "transform": [{"filter": "datum.p=='dA3' && datum.s=='§'"}], "mark": {"type": "text", "font": "DejaVu Sans", "fontSize": 19, "color": "#333", "baseline": "alphabetic", "dy": 6}, "encoding": {"x": {"field": "i", "type": "quantitative"}, "y": {"field": "v", "type": "quantitative"}, "text": {"field": "s"}}}
]
}
]
}
]
},
{
"spacing": 0,
"hconcat": [
{
"width": 227, "height": {"step": 25},
"data": {"name": "leg"},
"transform": [{"filter": "indexof(['I','II','V','VI'], datum.g) >= 0"}],
"encoding": {"y": {"field": "g", "type": "nominal", "scale": {"domain": ["I","II","V","VI"]}, "axis": null}},
"layer": [
{"mark": {"type": "rule", "strokeWidth": 2.5}, "encoding": {"x": {"datum": 0, "type": "quantitative", "scale": {"domain": [22, 249], "nice": false, "zero": false}, "axis": null}, "x2": {"datum": 31}, "color": {"field": "g", "type": "nominal", "legend": null, "scale": {"domain": ["I","II","III","IV","V","VI"], "range": ["#b0141c","#1c248c","#2e7d23","#22e3f0","#a3101a","#1c248c"]}}}},
{"mark": {"type": "point", "opacity": 1, "size": 130, "strokeWidth": 2}, "encoding": {"x": {"datum": 15.5, "type": "quantitative"},
"shape": {"field": "g", "type": "nominal", "legend": null, "scale": {"domain": ["I","II","III","IV","V","VI"], "range": ["circle","circle","triangle-down","triangle-up","square","square"]}},
"stroke": {"field": "g", "type": "nominal", "legend": null, "scale": {"domain": ["I","II","III","IV","V","VI"], "range": ["#b0141c","#1c248c","#2e7d23","#22e3f0","#a3101a","#1c248c"]}},
"fill": {"field": "g", "type": "nominal", "legend": null, "scale": {"domain": ["I","II","III","IV","V","VI"], "range": ["#b0141c","#ffffff","#2e7d23","#ffffff","#a3101a","#ffffff"]}}}},
{"mark": {"type": "text", "align": "left", "baseline": "middle", "font": "Liberation Sans", "fontSize": 14, "fontWeight": "bold", "color": "#000"}, "encoding": {"x": {"datum": 39, "type": "quantitative"}, "text": {"field": "t"}}}
]
},
{
"width": 290, "height": {"step": 25},
"data": {"name": "leg"},
"transform": [{"filter": "indexof(['III','IV'], datum.g) >= 0"}],
"encoding": {"y": {"field": "g", "type": "nominal", "scale": {"domain": ["III","IV"]}, "axis": null}},
"layer": [
{"mark": {"type": "rule", "strokeWidth": 2.5}, "encoding": {"x": {"datum": 0, "type": "quantitative", "scale": {"domain": [22, 312], "nice": false, "zero": false}, "axis": null}, "x2": {"datum": 31}, "color": {"field": "g", "type": "nominal", "legend": null, "scale": {"domain": ["I","II","III","IV","V","VI"], "range": ["#b0141c","#1c248c","#2e7d23","#22e3f0","#a3101a","#1c248c"]}}}},
{"mark": {"type": "point", "opacity": 1, "size": 130, "strokeWidth": 2}, "encoding": {"x": {"datum": 15.5, "type": "quantitative"},
"shape": {"field": "g", "type": "nominal", "legend": null, "scale": {"domain": ["I","II","III","IV","V","VI"], "range": ["circle","circle","triangle-down","triangle-up","square","square"]}},
"stroke": {"field": "g", "type": "nominal", "legend": null, "scale": {"domain": ["I","II","III","IV","V","VI"], "range": ["#b0141c","#1c248c","#2e7d23","#22e3f0","#a3101a","#1c248c"]}},
"fill": {"field": "g", "type": "nominal", "legend": null, "scale": {"domain": ["I","II","III","IV","V","VI"], "range": ["#b0141c","#ffffff","#2e7d23","#ffffff","#a3101a","#ffffff"]}}}},
{"mark": {"type": "text", "align": "left", "baseline": "middle", "font": "Liberation Sans", "fontSize": 14, "fontWeight": "bold", "color": "#000"}, "encoding": {"x": {"datum": 39, "type": "quantitative"}, "text": {"field": "t"}}}
]
}
]
}
],
"config": {
"view": {"stroke": null},
"font": "Liberation Sans",
"axis": {"grid": false, "labelOverlap": false, "labelFlush": false, "domainColor": "#000", "domainWidth": 2, "tickColor": "#000", "tickWidth": 2, "tickSize": 7, "labelFont": "Liberation Sans", "labelFontWeight": "bold", "labelFontSize": 14, "labelColor": "#000", "titleFont": "Liberation Sans", "titleFontWeight": "bold", "titleFontSize": 19, "titleColor": "#000", "titleLineHeight": 22},
"axisY": {"labelFontSize": 16, "titleFontSize": 20},
"title": {"font": "Liberation Sans", "fontSize": 22, "fontWeight": "bold", "color": "#000", "anchor": "middle"}
}
}
